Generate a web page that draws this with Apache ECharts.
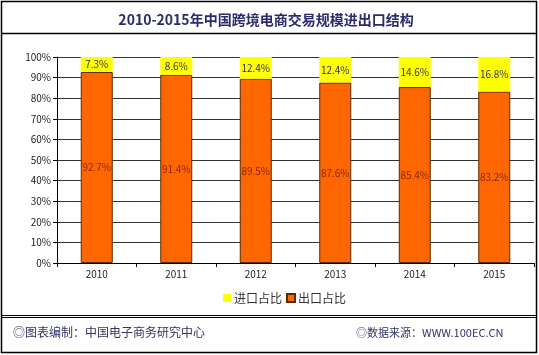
<!DOCTYPE html>
<html><head><meta charset="utf-8">
<script src="https://cdn.jsdelivr.net/npm/echarts@6/dist/echarts.min.js"></script>
<style>html,body{margin:0;padding:0;background:#fff}#c{width:539px;height:355px}</style>
</head><body><div id="c"></div>
<script>
var years = ['2010','2011','2012','2013','2014','2015'];
var importShare = [7.3, 8.6, 12.4, 12.4, 14.6, 16.8];
var exportShare = [92.7, 91.4, 89.5, 87.6, 85.4, 83.2];
var importLabels = ['7.3%','8.6%','12.4%','12.4%','14.6%','16.8%'];
var exportLabels = ['92.7%','91.4%','89.5%','87.6%','85.4%','83.2%'];
var importStack = exportShare.map(function(v){ return +(100 - v).toFixed(1); });

var font = '"Noto Sans CJK SC", "DejaVu Sans", sans-serif';
var chart = echarts.init(document.getElementById('c'), null, {renderer:'canvas'});
chart.setOption({
  animation: false,
  backgroundColor: '#fff',
  title: {
    text: '2010-2015年中国跨境电商交易规模进出口结构',
    left: 261, top: 8, textAlign: 'center',
    textStyle: {fontFamily: font, fontSize: 14, fontWeight: 'bold', color: '#2b2b6b'}
  },
  legend: {
    data: ['进口占比','出口占比'],
    left: 218, top: 287,
    itemWidth: 8, itemHeight: 8, itemGap: 4, icon: 'rect',
    textStyle: {fontFamily: font, fontSize: 12, color: '#333', padding:[0,0,0,-2]}
  },
  grid: {left: 57, right: 5, top: 57, bottom: 92, containLabel: false},
  xAxis: {
    type: 'category', data: years,
    axisLine: {lineStyle: {color: '#000', width: 1}},
    axisTick: {show: true, length: 4, lineStyle:{color:'#000'}},
    axisLabel: {fontFamily: font, fontSize: 10, color: '#222', margin: 6}
  },
  yAxis: {
    type: 'value', min: 0, max: 100, interval: 10,
    axisLine: {show: true, lineStyle: {color: '#000'}},
    axisTick: {show: true, length: 4, lineStyle:{color:'#000'}},
    axisLabel: {formatter: '{value}%', fontFamily: font, fontSize: 10, color: '#222', margin: 6},
    splitLine: {lineStyle: {color: '#333', width: 1}}
  },
  series: [
    {
      name: '出口占比', type: 'bar', stack: 's', data: exportShare, barWidth: 32,
      itemStyle: {color: '#ff6600', borderColor: '#5a2a00', borderWidth: 1},
      label: {show: true, position: 'inside', formatter: function(p){return exportLabels[p.dataIndex];},
        fontFamily: font, fontSize: 10, color: '#8b2a00'}
    },
    {
      name: '进口占比', type: 'bar', stack: 's', data: importStack, barWidth: 32,
      itemStyle: {color: '#ffff00'},
      label: {show: true, position: 'inside', formatter: function(p){return importLabels[p.dataIndex];},
        fontFamily: font, fontSize: 10, color: '#333366'}
    }
  ],
  graphic: [
    {type:'rect', shape:{x:1.5,y:1.5,width:535,height:351}, style:{fill:null, stroke:'#000', lineWidth:1.5}, silent:true},
    {type:'line', shape:{x1:1,y1:33.5,x2:537,y2:33.5}, style:{stroke:'#000', lineWidth:1.5}},
    {type:'line', shape:{x1:1,y1:315.5,x2:537,y2:315.5}, style:{stroke:'#000', lineWidth:1}},
    {type:'line', shape:{x1:1,y1:317.5,x2:537,y2:317.5}, style:{stroke:'#000', lineWidth:1}},
    {type:'text', left: 13, top: 326, style:{text:'◎图表编制：中国电子商务研究中心', font:'12px '+font, fill:'#333366'}},
    {type:'text', left: 356, top: 327, style:{text:'◎数据来源：WWW.100EC.CN', font:'11px '+font, fill:'#333366'}}
  ]
});
</script></body></html>
